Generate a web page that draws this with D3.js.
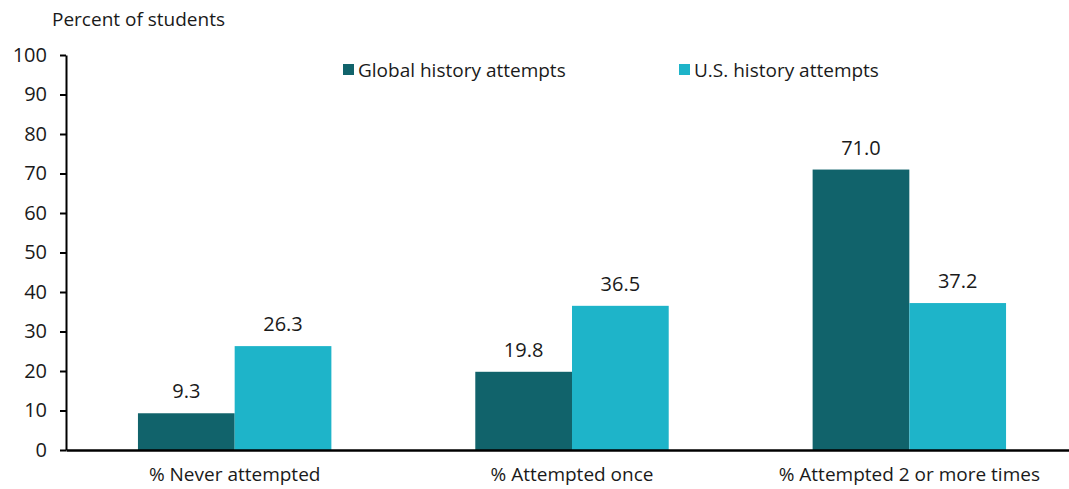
<!DOCTYPE html>
<html>
<head>
<meta charset="utf-8">
<script src="https://cdn.jsdelivr.net/npm/d3@7"></script>
<style>
  body { margin: 0; background: #fff; }
  text { font-family: "Open Sans", "Liberation Sans", Arial, sans-serif; fill: #1a1a1a; }
</style>
</head>
<body>
<div id="chart"></div>
<script>
var categories = ['% Never attempted', '% Attempted once', '% Attempted 2 or more times'];
var seriesNames = ['Global history attempts', 'U.S. history attempts'];
var globalValues = [9.3, 19.8, 71.0];
var usValues = [26.3, 36.5, 37.2];
var yTicks = [0, 10, 20, 30, 40, 50, 60, 70, 80, 90, 100];
var colors = ['#11636b', '#1eb4c9'];

var W = 1069, H = 489;
var margin = {left: 66, top: 55, bottom: 39};

var svg = d3.select('#chart').append('svg')
    .attr('width', W)
    .attr('height', H);

var y = d3.scaleLinear().domain([0, 100]).range([H - margin.bottom, margin.top]);
var x0 = d3.scaleBand().domain(categories).range([margin.left, 1078]).padding(0);
var x1 = d3.scaleBand().domain(seriesNames).range([0, x0.bandwidth()])
    .paddingInner(0).paddingOuter(0.744);

var rows = categories.map(function(c, i) {
    return {cat: c, vals: [globalValues[i], usValues[i]]};
});

// bars
var groups = svg.selectAll('.grp').data(rows).enter().append('g')
    .attr('class', 'grp')
    .attr('transform', function(d) { return 'translate(' + x0(d.cat) + ',0)'; });

groups.selectAll('rect').data(function(d) {
        return d.vals.map(function(v, i) { return {name: seriesNames[i], v: v, i: i}; });
    }).enter().append('rect')
    .attr('x', function(d) { return x1(d.name); })
    .attr('y', function(d) { return y(d.v); })
    .attr('width', x1.bandwidth())
    .attr('height', function(d) { return y(0) - y(d.v); })
    .attr('fill', function(d) { return colors[d.i]; });

groups.selectAll('.val').data(function(d) {
        return d.vals.map(function(v, i) { return {name: seriesNames[i], v: v}; });
    }).enter().append('text')
    .attr('class', 'val')
    .attr('x', function(d) { return x1(d.name) + x1.bandwidth() / 2; })
    .attr('y', function(d) { return y(d.v) - 15; })
    .attr('text-anchor', 'middle')
    .style('font-size', '20px')
    .text(function(d) { return d.v.toFixed(1); });

// y axis
var yAxis = svg.append('g')
    .attr('transform', 'translate(' + margin.left + ',0)')
    .call(d3.axisLeft(y).tickValues(yTicks).tickSize(6).tickPadding(13).tickSizeOuter(0));
yAxis.selectAll('text').style('font-size', '20px').attr('fill', '#1a1a1a');
yAxis.selectAll('line, path').attr('stroke', '#000').attr('stroke-width', 2);

// x axis
var xAxis = svg.append('g')
    .attr('transform', 'translate(0,' + y(0) + ')')
    .call(d3.axisBottom(x0).tickSize(0).tickPadding(18).tickSizeOuter(0));
xAxis.selectAll('text').style('font-size', '19px').attr('fill', '#1a1a1a');
xAxis.select('.domain').attr('stroke', '#000').attr('stroke-width', 2.5);

// axis title
svg.append('text')
    .attr('x', 52)
    .attr('y', 26)
    .style('font-size', '19px')
    .text('Percent of students');

// legend
var legendX = [343, 679];
var legend = svg.selectAll('.legendItem').data(seriesNames).enter().append('g')
    .attr('class', 'legendItem')
    .attr('transform', function(d, i) { return 'translate(' + legendX[i] + ',64)'; });
legend.append('rect')
    .attr('width', 11)
    .attr('height', 11)
    .attr('fill', function(d, i) { return colors[i]; });
legend.append('text')
    .attr('x', 15)
    .attr('y', 13)
    .style('font-size', '19px')
    .text(function(d) { return d; });
</script>
</body>
</html>
